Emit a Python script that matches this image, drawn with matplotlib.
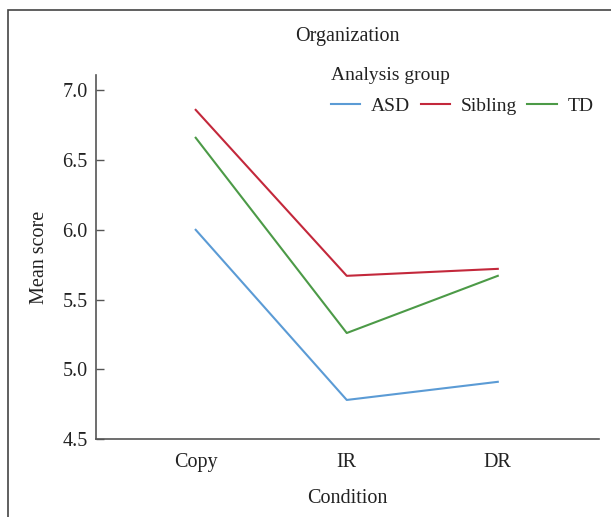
import matplotlib.pyplot as plt
from matplotlib.patches import Rectangle

# datos
conditions = ['Copy', 'IR', 'DR']
asd = [6.00, 4.78, 4.91]
sibling = [6.86, 5.67, 5.72]
td = [6.66, 5.26, 5.67]

plt.rcParams['font.family'] = ['Liberation Serif', 'DejaVu Serif']
fs = 14.5

fig = plt.figure(figsize=(6.11, 5.17), dpi=100)
ax = fig.add_axes([96/611, 1-439/517, (599-96)/611, (439-75)/517])

x = range(len(conditions))
ax.plot(x, asd, color='#5b9bd5', lw=1.5, label='ASD')
ax.plot(x, sibling, color='#c3283b', lw=1.5, label='Sibling')
ax.plot(x, td, color='#4c9a47', lw=1.5, label='TD')

ax.set_xlim(-0.66, 2.67)
ax.set_ylim(4.5, 7.11)
ax.set_yticks([4.5, 5.0, 5.5, 6.0, 6.5, 7.0])
ax.set_yticklabels(['4.5', '5.0', '5.5', '6.0', '6.5', '7.0'])
ax.set_xticks(list(x))
ax.set_xticklabels(conditions)

for s in ['top', 'right']:
    ax.spines[s].set_visible(False)
for s in ['left', 'bottom']:
    ax.spines[s].set_color('#555555')
    ax.spines[s].set_linewidth(1.2)

ax.tick_params(axis='y', direction='in', length=6, width=1, color='#555555',
               labelsize=fs, pad=6, labelcolor='#222222')
ax.tick_params(axis='x', length=0, labelsize=fs, pad=10, labelcolor='#222222')

ax.set_ylabel('Mean score', fontsize=fs, labelpad=10, color='#222222')
ax.set_xlabel('Condition', fontsize=fs, labelpad=12, color='#222222')
fig.text(347/611, 1-37/517, 'Organization', ha='center', va='center', fontsize=fs, color='#222222')

# labelspacing tambien fija el hueco entre el titulo y las entradas (una sola fila)
leg = ax.legend(ncol=3, title='Analysis group', frameon=False, loc='upper left',
                bbox_to_anchor=(331/611, 1-67/517), bbox_transform=fig.transFigure,
                borderaxespad=0, borderpad=0, fontsize=14, title_fontsize=14,
                handlelength=1.5, handletextpad=0.55, columnspacing=0.55,
                labelspacing=0.7, alignment='left')
leg.get_title().set_color('#222222')
for t in leg.get_texts():
    t.set_color('#222222')

# marco de la figura
fig.patches.append(Rectangle((8/611, -0.1), 1.2, 1-10/517+0.1, transform=fig.transFigure,
                             fill=False, edgecolor='#444444', lw=1.2))

fig.savefig('out.png', dpi=100)
